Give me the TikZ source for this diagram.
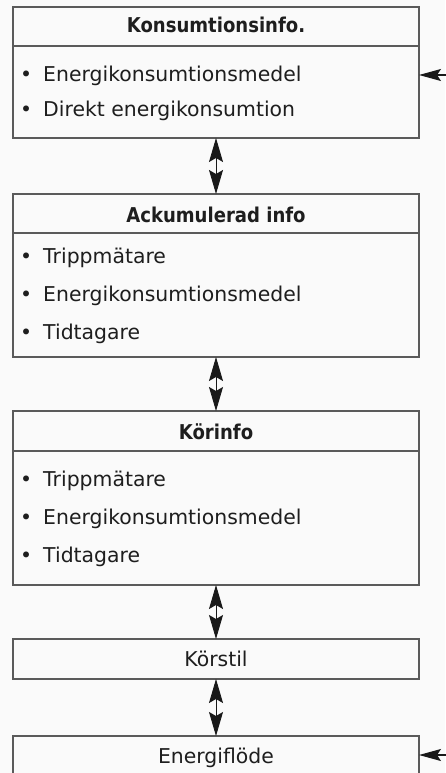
\documentclass[tikz,border=0pt]{standalone}
\usepackage{fontspec}
\setmainfont{DejaVu Sans}
\usepackage{graphicx}
\usetikzlibrary{arrows.meta}
\definecolor{bg}{HTML}{FAFAFA}
\definecolor{ln}{HTML}{5A5A5A}
\definecolor{tx}{HTML}{1E1E1E}
\begin{document}
\begin{tikzpicture}[x=1pt,y=-1pt,
  box/.style={draw=ln, line width=1.4pt, rectangle, inner sep=0pt, outer sep=0pt, anchor=north west, minimum width=406pt},
  sepline/.style={draw=ln, line width=1.4pt},
  item/.style={anchor=base west, inner sep=0pt, font=\fontsize{20.4}{24}\selectfont, text=tx},
  hdr/.style={anchor=base, inner sep=0pt, font=\fontsize{20.4}{24}\selectfont\bfseries, text=tx},
  plain/.style={anchor=base, inner sep=0pt, font=\fontsize{20.4}{24}\selectfont, text=tx},
  dbl/.style={draw=black!90, line width=0.9pt, {Stealth[length=24pt,width=14pt,inset=4pt]}-{Stealth[length=24pt,width=14pt,inset=4pt]}},
  inarr/.style={draw=black!90, line width=1.2pt, -{Stealth[length=22pt,width=12pt,inset=4pt]}}]
\fill[bg] (0,0) rectangle (445,773);
\useasboundingbox (0,0) rectangle (445,773);
\newcommand{\hb}[1]{\scalebox{0.885}[1]{#1}}
\newcommand{\bl}{\textbullet\hspace{11pt}}

% boxes
\node[box, minimum height=131pt] (b1) at (13,7) {};
\node[box, minimum height=163pt] (b2) at (13,194) {};
\node[box, minimum height=174pt] (b3) at (13,411) {};
\node[box, minimum height=40pt] (b4) at (13,639) {};
\node[box, minimum height=40pt] (b5) at (13,736) {};

% header separators
\draw[sepline] (13,46) -- (419,46);
\draw[sepline] (13,233) -- (419,233);
\draw[sepline] (13,451) -- (419,451);

% texts
\node[hdr] (h1) at (216,33) {\hb{Konsumtionsinfo.}};
\node[item] (t11) at (20,81.5) {\bl Energikonsumtionsmedel};
\node[item] (t12) at (20,117) {\bl Direkt energikonsumtion};

\node[hdr] (h2) at (216,222) {\hb{Ackumulerad info}};
\node[item] (t21) at (20,263) {\bl Trippmätare};
\node[item] (t22) at (20,301) {\bl Energikonsumtionsmedel};
\node[item] (t23) at (20,339) {\bl Tidtagare};

\node[hdr] (h3) at (216,439) {\hb{Körinfo}};
\node[item] (t31) at (20,486) {\bl Trippmätare};
\node[item] (t32) at (20,524) {\bl Energikonsumtionsmedel};
\node[item] (t33) at (20,562) {\bl Tidtagare};

\node[plain] (t4) at (216,666) {Körstil};
\node[plain] (t5) at (216,763) {Energiflöde};

% connectors
\draw[dbl] (b1.south) -- (b2.north);
\draw[dbl] (b2.south) -- (b3.north);
\draw[dbl] (b3.south) -- (b4.north);
\draw[dbl] (b4.south) -- (b5.north);

\coordinate (r1) at (447,75);
\coordinate (r5) at (447,755);
\draw[inarr] (r1) -- (r1 -| b1.east);
\draw[inarr] (r5) -- (r5 -| b5.east);
\end{tikzpicture}
\end{document}
